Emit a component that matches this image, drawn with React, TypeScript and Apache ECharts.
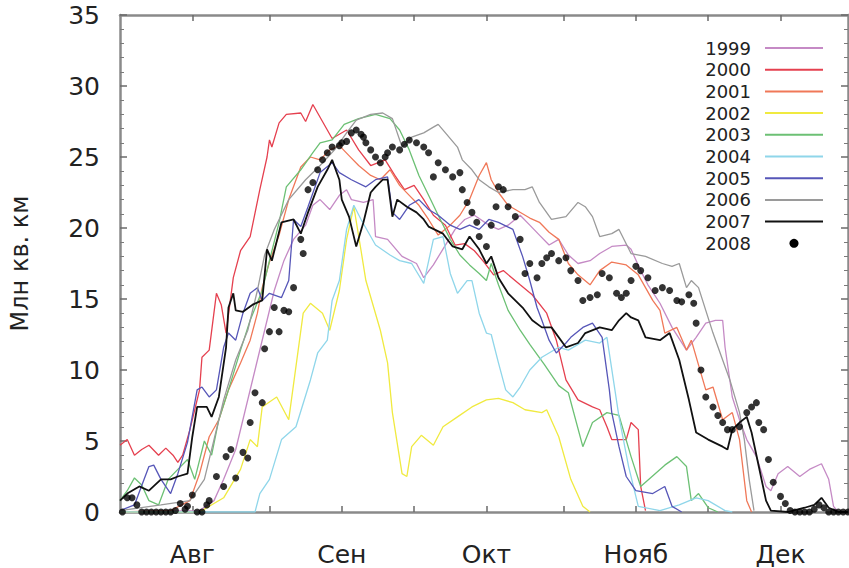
import React, { useEffect, useRef } from "react";
import * as echarts from "echarts";

// x = days counted from 1 August
const monthStarts = [0, 31, 61, 92, 122];
const monthNames = ["Авг", "Сен", "Окт", "Нояб", "Дек"];
const tickDays = [0, 16, 31, 46, 61, 77, 92, 107, 122];
const years = ["1999", "2000", "2001", "2002", "2003", "2004", "2005", "2006", "2007", "2008"];
const colors = ["#c58ac5", "#e5404f", "#f07858", "#f0ea40", "#6cc074", "#8fd6ea", "#5656b8", "#9a9a9a", "#111111", "#000000"];

const y1999 = [[-15,0],[1.5,0.1],[4.5,0.8],[6.5,2.3],[9,4.4],[11,7.2],[13,10],[15,12.8],[17,15.6],[19,17.7],[21,19.2],[23.5,20.2],[25,21.6],[26.5,22],[28.5,21.3],[30.5,22.3],[32,22.7],[33,22],[35.5,21.8],[37.5,22],[38,19.4],[40.5,19.2],[43.5,18],[46.5,17.5],[48,16.5],[50,17.4],[52.5,18.8],[54.5,19.9],[56.5,20.6],[58.5,20.9],[61.5,20.2],[63.5,19.9],[65.5,20.2],[68,20.9],[70,20.2],[72,19.5],[74,18.8],[76,19.2],[78,18.1],[80,17.5],[82.5,17.7],[84.5,18.2],[87,18.7],[90,18.8],[91,18.5],[93,17],[94.5,16],[97,14.7],[99.5,13],[102.5,11.4],[104.5,12.3],[106.5,13.3],[108.5,13.5],[110,13.5],[110.5,11.6],[112,8.1],[113.5,6.5],[115,5.1],[117,3.9],[119,1.8],[120,1.5],[121.5,2.7],[123.5,3.2],[126,2.5],[128,3],[130.5,3.4],[132,2.3],[133,0.4],[134,0]];

const y2000 = [[-15,4.7],[-13.5,5.1],[-12,4],[-10.5,4.4],[-9,4.7],[-7,4],[-5.5,4.5],[-4,4],[-3,3.5],[-2,4],[-0.5,5.8],[0.5,7.2],[1.5,8.6],[2,10.9],[3.5,11.4],[5,15.4],[6,14.6],[7,12.6],[8.5,16.5],[10,18.4],[12,19.4],[14,22.7],[15.5,25],[16,26.2],[16.5,25.7],[18,27.4],[19.5,28],[22.5,28.1],[23.5,27.5],[25,28.7],[28,26.9],[29,26.3],[32,26.9],[34.5,25.5],[37,24.4],[40,24.8],[42,23.7],[44,22.7],[46,23],[48,22],[50,20.9],[52.5,20.2],[54.5,18.8],[56.5,18.9],[58.5,18.4],[60.5,17.6],[62.5,16.7],[64.5,17],[68,16],[70.5,15.3],[73.5,14],[75.5,12.1],[77.5,9.3],[80,7.9],[83,7.4],[84.5,7.2],[86,6],[87,5.1],[90,5.1],[91,6.3],[92.5,5.8],[93,1.8],[94,0.1]];

const y2001 = [[-15,0],[-4.5,0.1],[-0.5,0.8],[1.5,2.7],[3.5,5.3],[5.5,6.5],[7.5,8.6],[10,10.5],[12,12.1],[13.5,14],[14.5,15.8],[16,17.6],[18,19.5],[20,22],[22.5,24.3],[24.5,25],[26.5,24.8],[28.5,25.5],[30.5,25.8],[32.5,25.1],[34.5,24.4],[37,23.7],[39,23.4],[41,24.1],[43,23],[45,22.3],[47,21.6],[49,20.6],[51,19.5],[53.5,20.2],[55.5,20.9],[57.5,22],[59.5,23.7],[61,24.6],[62,23.4],[63.5,22.5],[65.5,21.6],[67,21.3],[70,20.7],[72,20.4],[74,19.7],[76,19.2],[78,17.5],[80,16.7],[82.5,16],[84.5,17],[87,17.6],[90,17.4],[92.5,16.7],[95.5,14.9],[97,14.2],[98,12.6],[100.5,13],[102.5,11.4],[103.5,12.1],[106.5,8.6],[108,8.8],[110,6.5],[112,7],[113.5,5.1],[115,0.8],[116,0]];

const y2002 = [[-15,0],[1.5,0],[6.5,1],[10,3],[12,5.1],[13.5,4.6],[14.5,7.4],[17.5,8.1],[20,6.5],[23,14],[24.5,14.7],[27,14],[28.5,12.8],[30.5,15.6],[32,19.2],[33.5,21.5],[35,18.4],[36,16.3],[39,12.8],[40.5,10.5],[41.5,7],[43.5,2.7],[44.5,2.5],[45.5,4.6],[47.5,5.4],[50,4.7],[52,6],[55,6.7],[58,7.4],[61,7.9],[63.5,8],[66.5,7.7],[69,7.2],[72.5,7],[73.5,7.2],[76,5.3],[78.5,2.3],[81,0.4],[82.5,0]];

const y2003 = [[-15,0.8],[-13.5,1.5],[-12,2.4],[-10.5,1.9],[-9,0.8],[-7,0.5],[-5,2.3],[-3,3],[-1,3.7],[0.5,2.3],[2.5,5],[4,4],[5.5,6.5],[7.5,8.6],[10,11.4],[12,13.5],[14.5,15.6],[16,17.7],[18,20.4],[19.5,22.9],[22.5,24.1],[25,25.3],[26.5,26],[29,26.2],[31.5,27.3],[34.5,27.7],[38,28],[41,27.7],[43,26.9],[45,25.5],[47,23.7],[49,22.3],[51,20.9],[53.5,19.2],[55.5,18.1],[57.5,17.4],[59.5,16.8],[61,16.3],[62,17.5],[63.5,16],[65.5,14.2],[68,12.8],[70,11.8],[73,10.4],[76,8.9],[78,8.4],[81,4.6],[83,6.3],[86,7],[88.5,6.8],[91,3.9],[93,1.8],[96,2.7],[98,3.3],[100.5,3.9],[102.5,3.2],[103.5,0.8],[105,1.3],[107,0.3],[109,0]];

const y2004 = [[-15,0],[13,0],[14,1.3],[16,2.3],[18.5,5.1],[21.5,6],[24.5,9.3],[26,11.2],[28,12.1],[29,14.9],[30.5,16.3],[32,19.9],[33.5,21.6],[35,20.6],[38,18.8],[41,18.1],[43,17.7],[45.5,17.5],[48,16.1],[50,19.2],[52,19.4],[53.5,16.8],[55,15.4],[57,16.3],[58,16.3],[59.5,14],[61,12.6],[62,12.5],[63.5,10.5],[65,8.6],[66.5,8.1],[68,8.8],[70,10],[72.5,10.9],[76,11.6],[78,11.4],[81.5,12.1],[84.5,11.9],[86,12.3],[88.5,6.7],[90.5,3.2],[92.5,0.4],[97,0.1],[101,0.5],[104.5,1],[107,0.8],[110.5,0.1],[112,0]];

const y2005 = [[-15,0.1],[-12,0.5],[-10,2.3],[-9,3.2],[-8,3.3],[-6.5,2.3],[-4.5,1.3],[-3,2.7],[-1,4.9],[1,8.6],[2,8.8],[3.5,8.1],[5,8.6],[6.5,11.6],[7.5,12.6],[9,12.1],[10.5,14],[12,15.4],[13.5,15.8],[14.5,14.9],[16,15.4],[18.5,15.1],[20,16.3],[21,20.6],[22.5,20.1],[24,21.5],[26.5,23.9],[29,24.6],[30.5,23.9],[33,23.4],[36,22.9],[38,23.4],[40.5,23.6],[41.5,21.1],[43,20.6],[45,21.6],[47,22],[49,21.3],[51,20.9],[53.5,20.2],[55.5,19.9],[57.5,20.2],[59.5,19.9],[61.5,20.6],[63.5,20.4],[66.5,19.9],[68.5,18],[70,16.3],[71.5,14.4],[72.5,13.5],[74,12.1],[75.5,11.2],[77.5,11.9],[78.5,12.3],[81,13],[83,13.3],[85,12.3],[86.5,8.6],[87,7],[88.5,4.6],[90,2.5],[92,1.5],[95.5,1.3],[98,1.8],[99.5,0.4],[101.5,0]];

const y2006 = [[-15,0.1],[-6.5,0.5],[-0.5,0.8],[2.5,2.3],[4.5,5.1],[6.5,7.9],[9,10.7],[11.5,12.8],[13.5,15.6],[15,18.1],[17,19.9],[20,22],[23.5,23.4],[26.5,24.4],[29.5,25.5],[32,26.7],[34,27.6],[37,28],[39.5,28.1],[41.5,27.7],[43.5,25.7],[45.5,26.4],[48,26.7],[50,27.1],[51,27.3],[52.5,26.7],[55,25.7],[56,24.8],[58,24.1],[59.5,23.4],[61.5,22.9],[63.5,22.5],[66.5,22.7],[69,22.7],[70.5,22.9],[72,21.8],[74.5,20.6],[77.5,20.8],[80,21.8],[81.5,21.5],[83,20.8],[84.5,19.4],[87,19.6],[88.5,19.9],[91,18.2],[94,18],[97.5,17.5],[99.5,17.3],[101,17.5],[102.5,15.8],[103.5,16.3],[105,15.8],[106.5,14.2],[108,12.6],[110,10.7],[111.5,9.3],[113.5,7],[114.5,5.1],[115.5,2.3],[116.5,0.1]];

const y2007 = [[-15,0.8],[-13.5,1.3],[-11,1.8],[-9,1.5],[-6.5,2.3],[-4.5,2.3],[-3,2.5],[-1,2.7],[0,5.3],[1,7.4],[3,7.4],[4,6.7],[5.5,8.1],[7,11.6],[7.5,14.4],[8.5,15.4],[9,14.2],[10.5,14.1],[12.5,14.6],[14.5,14.9],[15.5,18.5],[16.5,17.7],[18.5,20.4],[21,20.6],[22.5,19.6],[24,21.1],[26,22.9],[28,24.1],[29,24.8],[30.5,23.4],[31,22],[32.5,20.8],[34,18.7],[35.5,20.4],[37,22.5],[38,22.9],[39.5,23.4],[40.5,23.4],[41.5,20.8],[42.5,22],[44.5,21.5],[46.5,21.1],[48,20.6],[49,20.1],[52,19.6],[54,18.7],[56,18.5],[57.5,19.4],[59.5,18.5],[61,17.5],[62,18],[63.5,16.5],[65.5,15.4],[68.5,14.4],[70.5,13.5],[72.5,13],[74.5,13],[77.5,11.6],[80,11.9],[81.5,12.6],[84.5,13],[87,12.8],[88.5,13.5],[90,14],[91,13.7],[92.5,13.5],[94,12.3],[97,12.1],[99,12.6],[101,10.7],[103,7.9],[104.5,5.6],[107,5.1],[110,4.6],[111,4.4],[112,5.8],[113.5,6.3],[115,6.7],[116,5.6],[117.5,3.2],[119,0.8],[120,0.1],[123.5,0],[127,0.3],[129,0.5],[130.5,1],[132,0.3],[134,0],[136,0]];

const y2008 = [[-14.5,0],[-13.5,1],[-12.5,1],[-11.5,0.5],[-10.5,0],[-9.5,0],[-8.5,0],[-7.5,0],[-6.5,0],[-5.5,0],[-4.5,0],[-3.5,0.1],[-2.5,0.6],[-1.5,0.2],[-1,0.4],[0,1.2],[1,0],[2,0],[3,0.5],[3.5,0.8],[5,2.5],[6.5,1.8],[7,3.9],[8,4.4],[9,2.4],[10.5,4.2],[11.5,3.8],[12,6.3],[13,8.4],[14.5,7.7],[15,11.5],[16,12.7],[17,14.4],[18,12.7],[19,14.2],[20,14.1],[21,15.8],[22.5,19.2],[23,18.2],[24,22.7],[25,23.2],[26,24.1],[27,24.8],[28,25.3],[29,25.7],[30.5,25.8],[31,26],[32,26.1],[33,26.7],[34,26.9],[35,26.6],[35.5,26.4],[36,26],[37,25.5],[38,25],[39,24.6],[40,25],[40.5,25.3],[41.5,25.7],[43,25.5],[44,25.9],[45,26.2],[46.5,26],[48,25.7],[49,25.3],[50,23.6],[51,24.6],[52.5,24.1],[54,23.6],[55.5,23.9],[56,22.7],[57,21.8],[58,21.1],[59,20.4],[59.5,19.4],[61,18.7],[62,20.2],[63,21.5],[63.5,22.9],[64.5,22.7],[65.5,21.5],[67,20.8],[68,19.2],[69,16.8],[70,17.5],[71.5,16.5],[72.5,17.5],[73.5,17.9],[74.5,18.2],[76,17.7],[77.5,17.9],[78.5,17],[80,16.3],[81,14.9],[82.5,15.1],[84,15.3],[85,16.8],[86.5,16.5],[88,15.4],[89,15.1],[90,15.4],[91,16.3],[92,17.3],[93,17],[94.5,16.5],[96,15.6],[97.5,15.8],[99,15.6],[100.5,14.9],[101.5,14.8],[103,15.3],[104,14.7],[104.5,13.3],[105.5,10],[106.5,8.1],[108,7.4],[109,6.8],[110,6.3],[111,5.8],[112,5.8],[113.5,6],[115,7],[116,7.4],[117,7.7],[117.5,6.3],[118.5,5.8],[119.5,3.7],[120.5,2.1],[122,1.1],[123,0.6],[124,0.1],[125,0],[126,0],[127,0],[128,0],[129,0.2],[130,0.5],[131,0.3],[132,0],[133,0],[134,0],[135,0],[136,0]];

const lineData = [y1999, y2000, y2001, y2002, y2003, y2004, y2005, y2006, y2007];

const FONT = "DejaVu Sans";

export default function App() {
  const ref = useRef<HTMLDivElement>(null);
  useEffect(() => {
    if (!ref.current) return;
    const chart = echarts.init(ref.current, null, { renderer: "svg" });
    const axisLine = { show: true, onZero: false, lineStyle: { color: "#8a8a8a", width: 2.5 } };
    const tickStyle = { color: "#6a6a6a", width: 1.5 };
    const xAxisCommon = {
      type: "value",
      min: -15,
      max: 136,
      splitLine: { show: false },
      axisLine,
      axisTick: { show: true, inside: true, length: 6, customValues: tickDays, lineStyle: tickStyle },
    };
    const yAxisCommon = {
      type: "value",
      min: 0,
      max: 35,
      interval: 5,
      splitLine: { show: false },
      axisLine,
      axisTick: { show: true, inside: true, length: 7, lineStyle: tickStyle },
      minorTick: { show: true, splitNumber: 5, length: 4, lineStyle: { color: "#7a7a7a", width: 1 } },
    };
    const series: any[] = lineData.map((d, i) => ({
      name: years[i],
      type: "line",
      xAxisIndex: 0,
      yAxisIndex: 0,
      data: d,
      symbol: "none",
      showSymbol: false,
      lineStyle: { color: colors[i], width: i === 8 ? 1.8 : 1.3 },
      itemStyle: { color: colors[i] },
      z: 2 + i,
    }));
    series.push({
      name: "2008",
      type: "scatter",
      xAxisIndex: 0,
      yAxisIndex: 0,
      data: y2008,
      symbol: "circle",
      symbolSize: 7,
      itemStyle: { color: "#000" },
      z: 20,
    });
    chart.setOption({
      animation: false,
      backgroundColor: "#ffffff",
      grid: { left: 120, right: 1, top: 15, bottom: 56, containLabel: false },
      xAxis: [
        {
          ...xAxisCommon,
          position: "bottom",
          axisLabel: {
            show: true,
            customValues: monthStarts,
            formatter: (v: number) => monthNames[monthStarts.indexOf(v)] ?? "",
            fontSize: 25,
            fontFamily: FONT,
            color: "#222",
            margin: 30,
          },
        },
        { ...xAxisCommon, position: "top", axisLabel: { show: false } },
      ],
      yAxis: [
        {
          ...yAxisCommon,
          position: "left",
          name: "Млн кв. км",
          nameLocation: "middle",
          nameGap: 88,
          nameTextStyle: { fontSize: 24, fontFamily: FONT, color: "#222" },
          axisLabel: { fontSize: 25, fontFamily: FONT, color: "#222", margin: 20, padding: [10, 0, 0, 0] },
        },
        { ...yAxisCommon, position: "right", axisLabel: { show: false } },
      ],
      legend: {
        orient: "vertical",
        right: 25,
        top: 39,
        padding: 0,
        align: "right",
        itemWidth: 58,
        itemHeight: 9,
        itemGap: 3.7,
        itemStyle: { opacity: 0 },
        textStyle: { fontSize: 18, fontFamily: FONT, color: "#222", lineHeight: 18, padding: [0, 9, 0, 0] },
        data: years.map((y) => (y === "2008" ? { name: y, itemStyle: { opacity: 1 } } : { name: y })),
      },
      series,
    });
    return () => chart.dispose();
  }, []);
  return (
    <div
      ref={ref}
      style={{ position: "absolute", left: 0, top: 0, width: 849, height: 568, background: "#fff" }}
    />
  );
}
